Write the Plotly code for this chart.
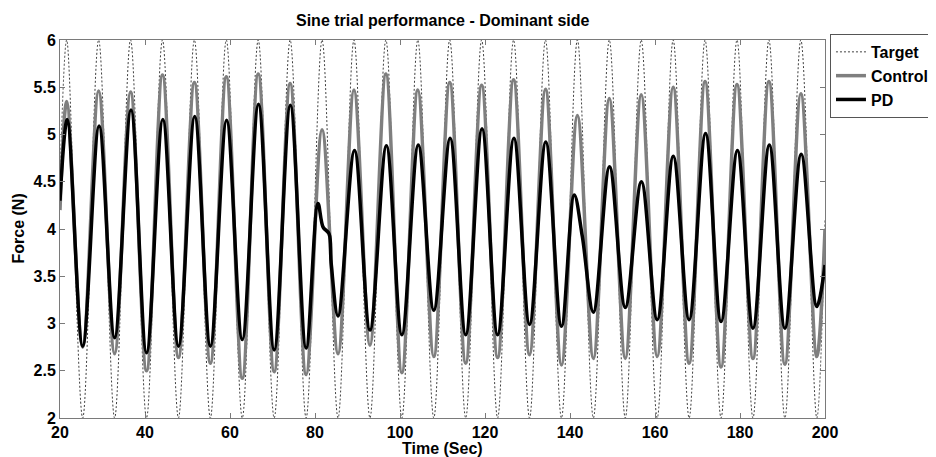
import plotly.graph_objects as go

# ---- data ----
# Target sine: peak / trough times (s) and forces (N)
target_peak_time = [21.58, 29.09, 36.60, 44.11, 51.62, 59.13, 66.64, 74.15, 81.66, 89.17,
                    96.68, 104.19, 111.70, 119.21, 126.72, 134.23, 141.74, 149.25, 156.76,
                    164.27, 171.78, 179.29, 186.80, 194.31]
target_trough_time = [25.34, 32.85, 40.36, 47.87, 55.38, 62.89, 70.40, 77.91, 85.42, 92.93,
                      100.44, 107.95, 115.46, 122.97, 130.48, 137.99, 145.50, 153.01, 160.52,
                      168.03, 175.54, 183.05, 190.56, 198.07]
target_peak = [6.0] * 24
target_trough = [2.0] * 24
target_start = (20.0, 4.5)
target_end = (200.0, 4.1)

# Control group (grey)
control_peak = [5.35, 5.46, 5.45, 5.63, 5.55, 5.61, 5.64, 5.54, 5.05, 5.47, 5.64, 5.47,
                5.55, 5.52, 5.58, 5.48, 5.20, 5.38, 5.42, 5.50, 5.56, 5.53, 5.56, 5.43]
control_trough = [2.75, 2.68, 2.50, 2.64, 2.58, 2.42, 2.49, 2.46, 2.68, 2.77, 2.48, 2.65,
                  2.58, 2.64, 2.67, 2.56, 2.63, 2.63, 2.65, 2.58, 2.54, 2.63, 2.57, 2.65]
control_start = (20.0, 4.2)
control_end = (200.0, 4.0)

# PD group (black)
pd_peak_time = [21.7, 29.2, 36.7, 44.2, 51.7, 59.2, 66.7, 74.2, 80.7, 89.3,
                96.8, 104.3, 111.8, 119.3, 126.8, 134.3, 141.0, 149.3, 156.8,
                164.3, 171.9, 179.4, 186.9, 194.4]
pd_peak = [5.16, 5.09, 5.26, 5.16, 5.19, 5.15, 5.32, 5.31, 4.27, 4.83, 4.88, 4.89,
           4.96, 5.06, 4.96, 4.92, 4.36, 4.66, 4.50, 4.77, 5.01, 4.83, 4.89, 4.79]
pd_trough = [2.76, 2.85, 2.69, 2.76, 2.76, 2.83, 2.72, 2.74, 3.08, 2.93, 2.88, 3.14,
             2.88, 2.88, 2.99, 2.97, 3.12, 3.17, 3.04, 3.04, 3.02, 2.95, 2.95, 3.18]
pd_extra_time = [81.9, 83.3, 83.8, 142.9]
pd_extra_force = [4.02, 3.95, 3.64, 3.92]
pd_start = (20.0, 4.3)
pd_end = (200.0, 3.62)

x_ticks = [20, 40, 60, 80, 100, 120, 140, 160, 180, 200]
y_ticks = [2, 2.5, 3, 3.5, 4, 4.5, 5, 5.5, 6]


def build(start, peak_t, peaks, trough_t, troughs, end, extra_t=(), extra_y=()):
    pts = [start]
    for pt, pv, tt, tv in zip(peak_t, peaks, trough_t, troughs):
        pts.append((pt, pv))
        pts.append((tt, tv))
    pts.extend(zip(extra_t, extra_y))
    pts.append(end)
    pts.sort(key=lambda p: p[0])
    return [p[0] for p in pts], [p[1] for p in pts]


tx, ty = build(target_start, target_peak_time, target_peak, target_trough_time,
               target_trough, target_end)
cx, cy = build(control_start, target_peak_time, control_peak, target_trough_time,
               control_trough, control_end)
px, py = build(pd_start, pd_peak_time, pd_peak, target_trough_time, pd_trough, pd_end,
               pd_extra_time, pd_extra_force)

FONT = "Liberation Sans, Arial, Helvetica, sans-serif"
AXC = "#7a7a7a"
BOLD16 = dict(family=FONT, size=16, color="black", weight="bold")

fig = go.Figure()
fig.add_trace(go.Scatter(x=tx, y=ty, mode="lines", name="Target",
                         line=dict(color="#404040", width=1, dash="2px,2px",
                                   shape="spline", smoothing=1)))
fig.add_trace(go.Scatter(x=cx, y=cy, mode="lines", name="Control",
                         line=dict(color="#7f7f7f", width=3.5, shape="spline", smoothing=1)))
fig.add_trace(go.Scatter(x=px, y=py, mode="lines", name="PD",
                         line=dict(color="#000000", width=3.5, shape="spline", smoothing=1)))

axis_common = dict(showline=True, linecolor=AXC, linewidth=1, mirror="ticks",
                   ticks="inside", ticklen=5, tickcolor=AXC, tickwidth=1,
                   showgrid=False, zeroline=False, tickfont=BOLD16)

# The page body adds an 8 px offset, so the figure is 8 px smaller on each axis
fig.update_layout(
    width=928, height=449,
    margin=dict(l=52, r=111, t=32, b=39, autoexpand=False),
    paper_bgcolor="white", plot_bgcolor="white",
    font=dict(family=FONT, size=16, color="black"),
    xaxis=dict(range=[20, 200], tickvals=x_ticks, **axis_common),
    yaxis=dict(range=[2, 6], tickvals=y_ticks, **axis_common),
    showlegend=True,
    legend=dict(x=1.0065, xanchor="left", y=1.016, yanchor="top",
                bordercolor="#555555", borderwidth=1, bgcolor="white",
                font=BOLD16, itemwidth=30, tracegroupgap=0),
    annotations=[
        dict(text="Sine trial performance - Dominant side", xref="paper", yref="paper",
             x=0.5, y=1, xanchor="center", yanchor="bottom", yshift=9,
             showarrow=False, font=BOLD16),
        dict(text="Time (Sec)", xref="paper", yref="paper", x=0.5, y=0,
             xanchor="center", yanchor="top", yshift=-20, showarrow=False,
             font=BOLD16),
        dict(text="Force (N)", xref="paper", yref="paper", x=0, y=0.5,
             xanchor="center", yanchor="middle", xshift=-42.5, textangle=-90,
             showarrow=False, font=BOLD16),
    ],
)

fig.write_html("out.html")
